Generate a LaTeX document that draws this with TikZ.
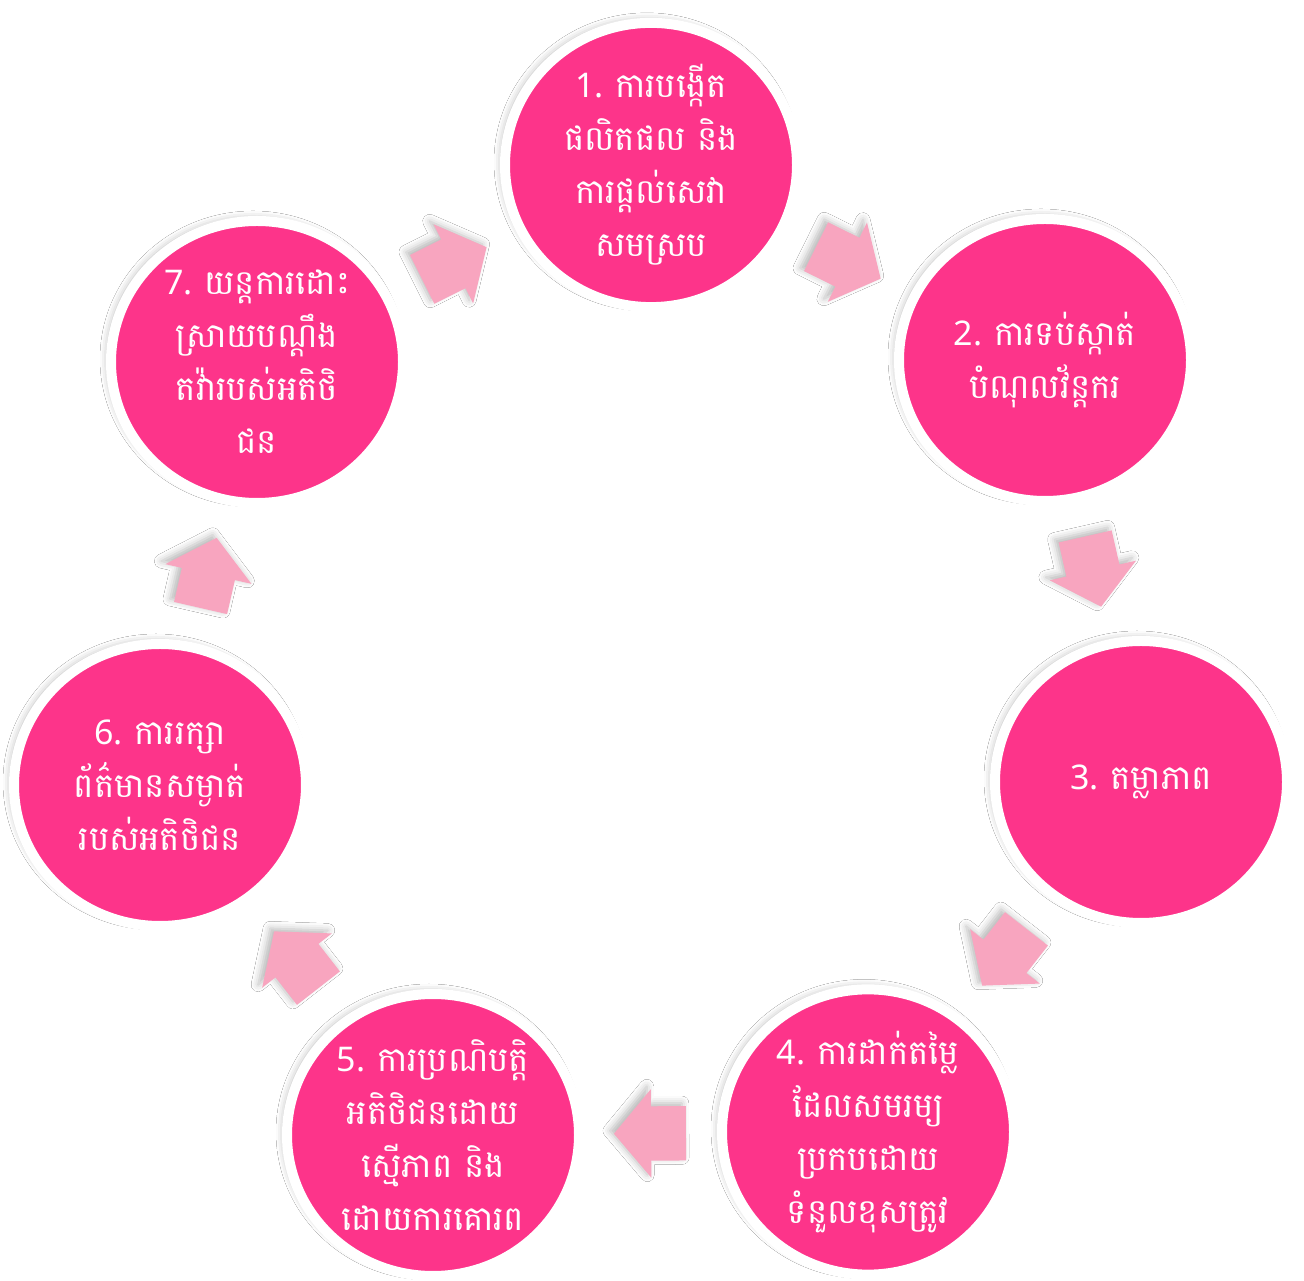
\documentclass[tikz,border=0pt]{standalone}
\usepackage{fontspec}
\newfontfamily\khmerfont[Script=Khmer]{Battambang}
\newfontfamily\numfont{Noto Sans}
\usetikzlibrary{shapes.geometric,shapes.arrows,shadows.blur,calc}
\definecolor{discpink}{HTML}{FD348A}
\definecolor{arrowpink}{HTML}{F8A5BF}
\newcommand{\stepno}[1]{{\numfont #1}}
\tikzset{
  softshadow/.style={blur shadow={shadow xshift=-4pt, shadow yshift=3pt,
      shadow blur radius=7pt, shadow opacity=28, shadow scale=1.0}},
  disc/.style={ellipse, minimum width=292pt, minimum height=282pt,
      fill=discpink, draw=white, line width=10pt, text=white,
      align=center, inner sep=0pt, softshadow,
      font=\khmerfont\fontsize{34}{53}\selectfont},
  flowarrow/.style={single arrow, fill=arrowpink, draw=none,
      minimum height=72pt, inner xsep=0pt, inner ysep=27pt,
      single arrow head extend=17pt, single arrow tip angle=100,
      softshadow},
}
% block arrow between two discs, turned along the line joining them
\newcommand{\linkarrow}[3]{%
  \path let \p1=($(#3)-(#2)$), \n1={atan2(\y1,\x1)} in
    node[flowarrow, rotate=\n1] (#1) at ($(#2)!0.475!(#3)$) {};
}
\begin{document}
\begin{tikzpicture}[x=1pt,y=1pt]
  \fill[white] (0,0) rectangle (1304,1280);
  \useasboundingbox (0,0) rectangle (1304,1280);

  \node[disc] (s1) at (651,1115) {\stepno{1. }ការបង្កើត\\ផលិតផល និង\\ការផ្ដល់សេវា\\សមស្រប};
  \node[disc] (s2) at (1045,920) {\stepno{2. }ការទប់ស្កាត់\\បំណុលវ័ន្តករ};
  \node[disc] (s3) at (1141,498) {\stepno{3. }តម្លាភាព};
  \node[disc] (s4) at (868,148) {\stepno{4. }ការដាក់តម្លៃ\\ដែលសមរម្យ\\ប្រកបដោយ\\ទំនួលខុសត្រូវ};
  \node[disc] (s5) at (433,145) {\stepno{5. }ការប្រណិបត្តិ\\អតិថិជនដោយ\\ស្មើភាព និង\\ដោយការគោរព};
  \node[disc] (s6) at (160,495) {\stepno{6. }ការរក្សា\\ព័ត៌មានសម្ងាត់\\របស់អតិថិជន};
  \node[disc] (s7) at (257,918) {\stepno{7. }យន្តការដោះ\\ស្រាយបណ្ដឹង\\តវ៉ារបស់អតិថិ\\ជន};

  \linkarrow{a12}{s1}{s2}
  \linkarrow{a23}{s2}{s3}
  \linkarrow{a34}{s3}{s4}
  \linkarrow{a45}{s4}{s5}
  \linkarrow{a56}{s5}{s6}
  \linkarrow{a67}{s6}{s7}
  \linkarrow{a71}{s7}{s1}
\end{tikzpicture}
\end{document}
